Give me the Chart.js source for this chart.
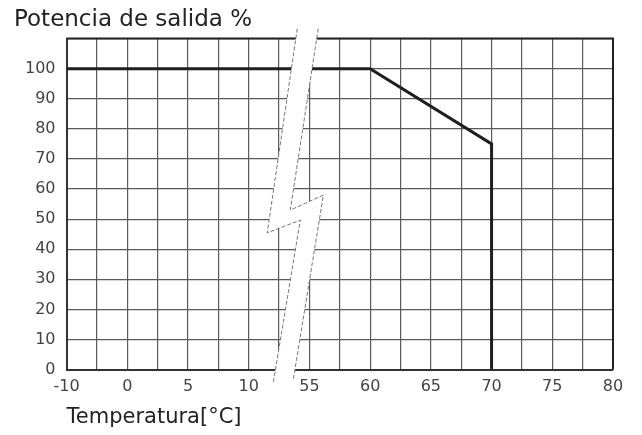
<!DOCTYPE html>
<html>
<head>
<meta charset="utf-8">
<script src="https://cdn.jsdelivr.net/npm/chart.js@4/dist/chart.umd.min.js"></script>
<style>
  html, body { margin: 0; padding: 0; background: #fff; }
  #wrap { width: 642px; height: 435px; }
</style>
</head>
<body>
<div id="wrap"><canvas id="myChart" width="642" height="435"></canvas></div>
<script>
// tick labels of the broken temperature axis (-10..10 | 55..80)
const xTicks = [-10, 0, 5, 10, 55, 60, 65, 70, 75, 80];
const yTicks = [0, 10, 20, 30, 40, 50, 60, 70, 80, 90, 100];

// derating curve
const temps = [-10, 60, 70, 70];
const power = [100, 100, 75, 0];

// the "break" mark drawn across the axis, in axis units (position, %)
const breakLeft = [[7.60, 113.3], [6.61, 45.4], [7.70, 49.7], [6.81, -4.3]];
const breakRight = [[8.29, 113.3], [7.37, 53.0], [8.46, 58.0], [7.47, -3.3]];

// each label sits two grid steps from the next one
function toPos(t) {
    for (let i = 0; i < xTicks.length - 1; i++) {
        if (t >= xTicks[i] && t <= xTicks[i + 1]) {
            return 2 * i + 2 * (t - xTicks[i]) / (xTicks[i + 1] - xTicks[i]);
        }
    }
    return 2 * (xTicks.length - 1);
}

const points = temps.map((t, i) => ({ x: toPos(t), y: power[i] }));

const breakMark = {
    id: 'breakMark',
    afterDraw(chart) {
        const ctx = chart.ctx;
        const xs = chart.scales.x, ys = chart.scales.y;
        const px = p => [xs.getPixelForValue(p[0]), ys.getPixelForValue(p[1])];
        const left = breakLeft.map(px);
        const right = breakRight.map(px);
        ctx.save();
        ctx.beginPath();
        left.forEach((p, i) => i ? ctx.lineTo(p[0], p[1]) : ctx.moveTo(p[0], p[1]));
        right.slice().reverse().forEach(p => ctx.lineTo(p[0], p[1]));
        ctx.closePath();
        ctx.fillStyle = '#fff';
        ctx.fill();
        ctx.strokeStyle = '#777';
        ctx.lineWidth = 1;
        ctx.setLineDash([4, 2]);
        [left, right].forEach(side => {
            ctx.beginPath();
            side.forEach((p, i) => i ? ctx.lineTo(p[0], p[1]) : ctx.moveTo(p[0], p[1]));
            ctx.stroke();
        });
        ctx.restore();
    }
};

// dark top and right edge of the plot
const frame = {
    id: 'frame',
    afterDatasetsDraw(chart) {
        const a = chart.chartArea, c = chart.ctx;
        c.save();
        c.strokeStyle = '#222';
        c.lineWidth = 2;
        c.beginPath();
        c.moveTo(a.left, a.top);
        c.lineTo(a.right, a.top);
        c.lineTo(a.right, a.bottom);
        c.stroke();
        c.restore();
    }
};

const ctx = document.getElementById('myChart').getContext('2d');
const myChart = new Chart(ctx, {
    type: 'line',
    data: {
        datasets: [{
            data: points,
            borderColor: '#1e1e1e',
            borderWidth: 3,
            pointRadius: 0,
            fill: false,
            tension: 0
        }]
    },
    options: {
        responsive: false,
        animation: false,
        layout: { padding: { left: 14, right: 29, top: 0, bottom: 5 } },
        plugins: {
            legend: { display: false },
            tooltip: { enabled: false },
            title: {
                display: true,
                text: 'Potencia de salida %',
                align: 'start',
                color: '#222',
                font: { family: 'DejaVu Sans', size: 23, weight: 'normal' },
                padding: { top: 6, bottom: 5 }
            }
        },
        scales: {
            x: {
                type: 'linear',
                min: 0,
                max: 2 * (xTicks.length - 1),
                grid: { color: '#5a5a5a', lineWidth: 1.2, drawTicks: false },
                border: { display: true, color: '#333', width: 2 },
                ticks: {
                    stepSize: 1,
                    autoSkip: false,
                    maxRotation: 0,
                    padding: 8,
                    color: '#444',
                    font: { family: 'DejaVu Sans', size: 16 },
                    callback: v => (v % 2 === 0 ? String(xTicks[v / 2]) : '')
                },
                title: {
                    display: true,
                    text: 'Temperatura[°C]',
                    align: 'start',
                    color: '#222',
                    font: { family: 'DejaVu Sans', size: 21 },
                    padding: { top: 0, bottom: 0 }
                }
            },
            y: {
                min: 0,
                max: 110,
                grid: { color: '#5a5a5a', lineWidth: 1.2, drawTicks: false },
                border: { display: true, color: '#333', width: 2 },
                ticks: {
                    stepSize: 10,
                    padding: 11,
                    color: '#444',
                    font: { family: 'DejaVu Sans', size: 16 },
                    callback: v => (yTicks.includes(v) ? String(v) : '')
                }
            }
        }
    },
    plugins: [frame, breakMark]
});
console.log(myChart.chartArea);
</script>
</body>
</html>
